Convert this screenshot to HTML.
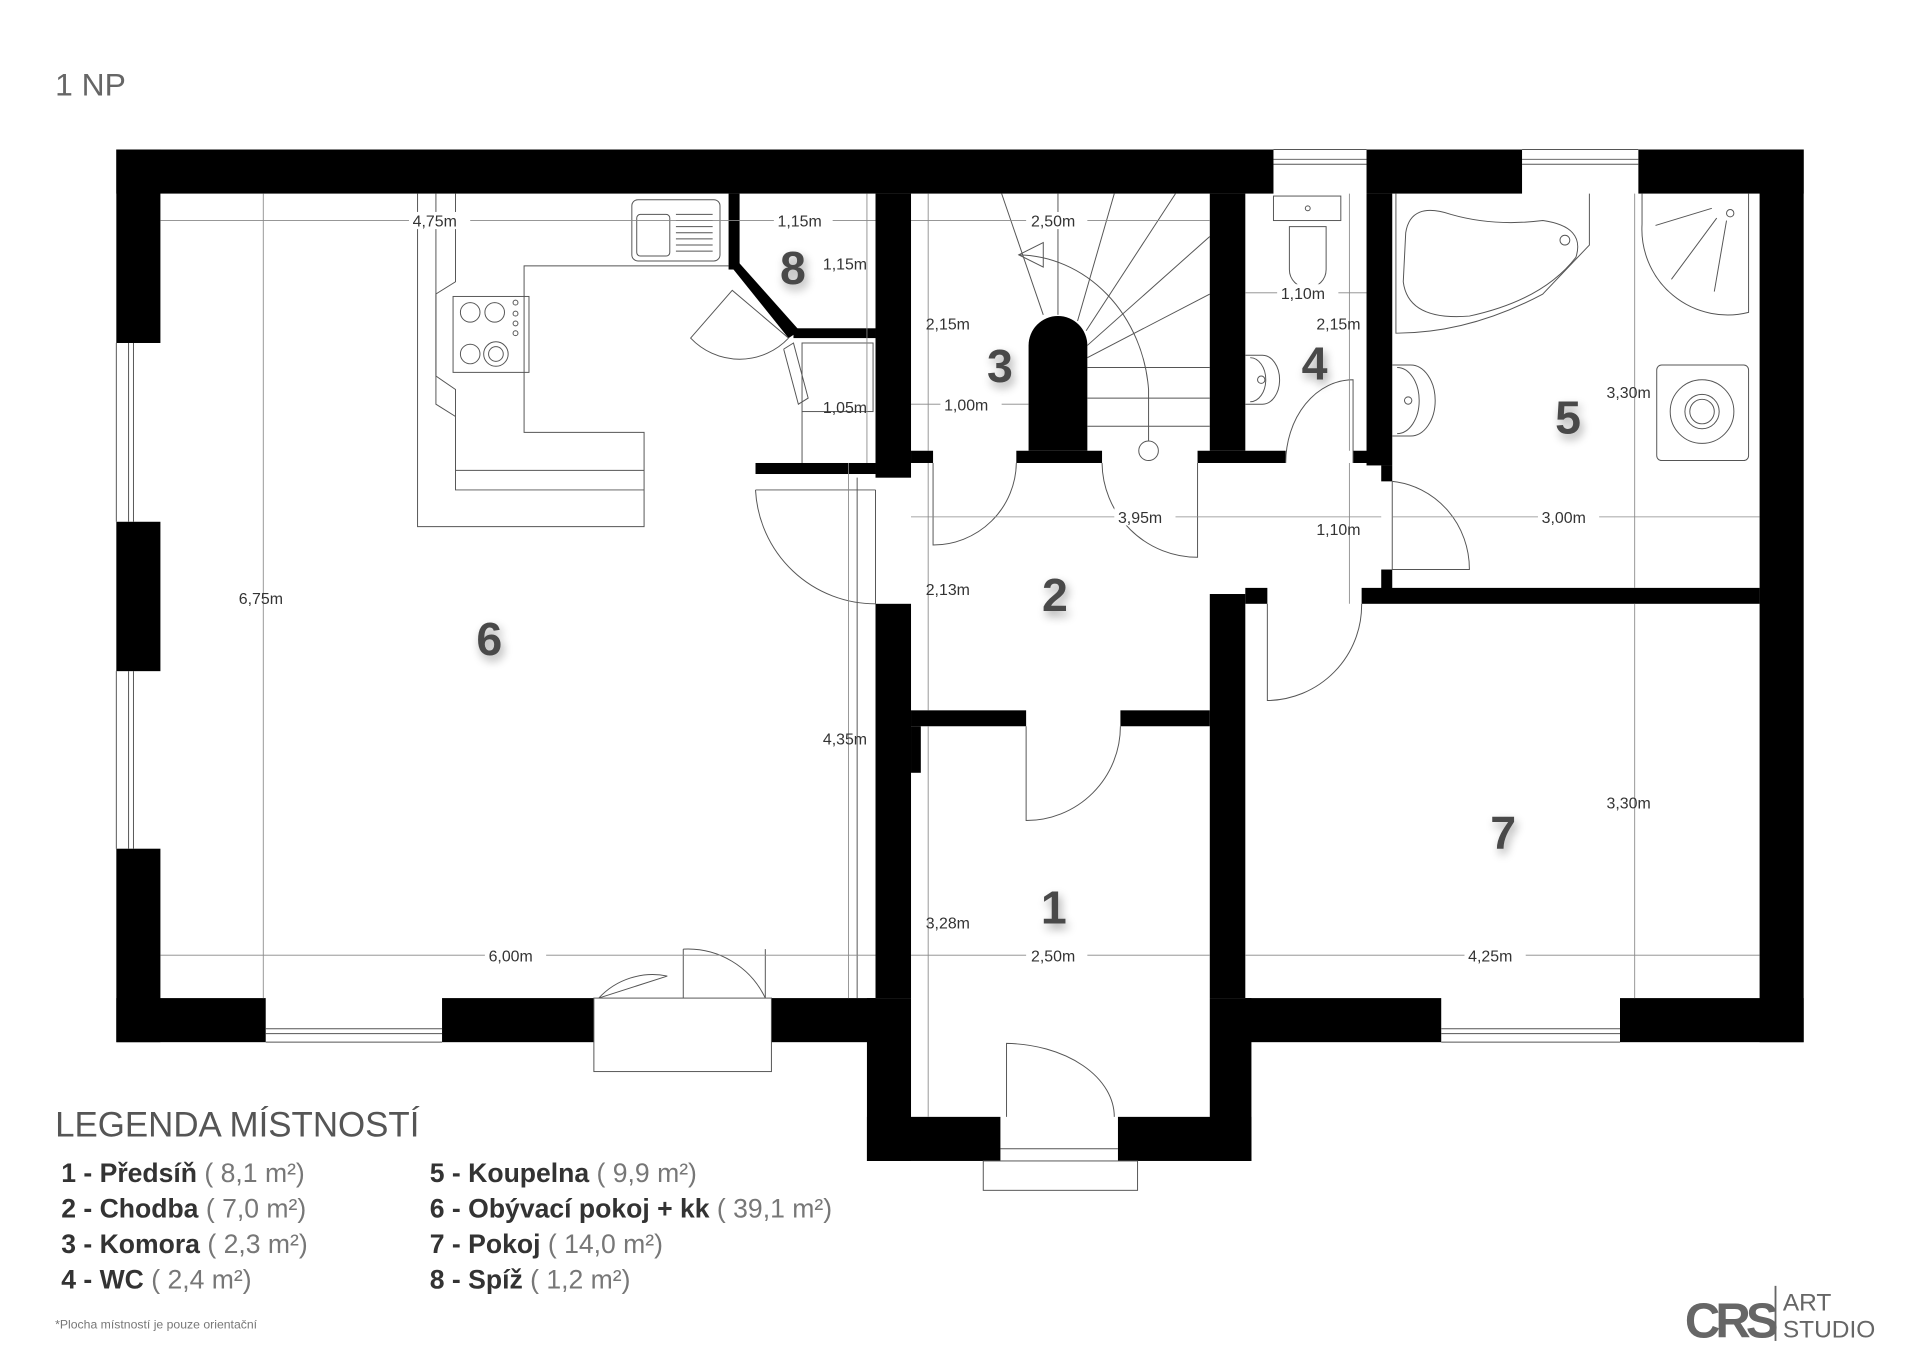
<!DOCTYPE html>
<html><head><meta charset="utf-8"><style>
html,body{margin:0;padding:0;background:#fff;}
svg{display:block;}
text{font-family:"Liberation Sans",sans-serif;}
.d{font-size:13px;fill:#333;}
.n{font-size:38px;font-weight:bold;fill:#4a4a4a;}
.l{stroke:#555;stroke-width:0.8;fill:none;}
.dm{stroke:#888;stroke-width:0.7;fill:none;}
.lg{font-size:21.7px;fill:#333;}
.lg tspan.b{font-weight:bold;}
.lg tspan.g{fill:#777;}
</style></head><body>
<svg width="1920" height="1357" viewBox="0 0 1568 1108" xmlns="http://www.w3.org/2000/svg">
<defs><filter id="sh" x="-50%" y="-50%" width="200%" height="200%"><feGaussianBlur in="SourceAlpha" stdDeviation="4"/><feOffset dx="2" dy="4"/><feComponentTransfer><feFuncA type="linear" slope="0.35"/></feComponentTransfer><feMerge><feMergeNode/><feMergeNode in="SourceGraphic"/></feMerge></filter></defs>
<rect width="1568" height="1108" fill="#fff"/>
<text x="45" y="78" font-size="26" fill="#666">1 NP</text>

<g fill="#000">
<rect x="95" y="122" width="945" height="36"/>
<rect x="1116" y="122" width="127" height="36"/>
<rect x="1338" y="122" width="135" height="36"/>
<rect x="95" y="122" width="36" height="158"/>
<rect x="95" y="426" width="36" height="122"/>
<rect x="95" y="693" width="36" height="158"/>
<rect x="95" y="815" width="122" height="36"/>
<rect x="361" y="815" width="124" height="36"/>
<rect x="630" y="815" width="85" height="36"/>
<rect x="708" y="815" width="36" height="133"/>
<rect x="708" y="912" width="109" height="36"/>
<rect x="913" y="912" width="109" height="36"/>
<rect x="988" y="815" width="34" height="133"/>
<rect x="1017" y="815" width="160" height="36"/>
<rect x="1323" y="815" width="150" height="36"/>
<rect x="1437" y="122" width="36" height="729"/>
<rect x="715" y="158" width="29" height="232"/>
<rect x="715" y="493" width="29" height="322"/>
<rect x="744" y="593" width="8" height="38"/>
<rect x="595" y="158" width="9" height="62"/>
<polygon points="595,215 604,215 653,270 644,276"/>
<rect x="648" y="268" width="67" height="8"/>
<rect x="617" y="378" width="98" height="9"/>
<rect x="988" y="158" width="29" height="210"/>
<rect x="1116" y="158" width="21" height="222"/>
<rect x="1128" y="380" width="9" height="13"/>
<rect x="1128" y="465" width="9" height="20"/>
<rect x="744" y="368" width="18" height="10"/>
<rect x="830" y="368" width="70" height="10"/>
<rect x="978" y="368" width="72" height="10"/>
<rect x="1105" y="368" width="23" height="10"/>
<rect x="744" y="580" width="94" height="13"/>
<rect x="915" y="580" width="73" height="13"/>
<rect x="988" y="485" width="29" height="330"/>
<rect x="1017" y="480" width="18" height="13"/>
<rect x="1112" y="480" width="325" height="13"/>
<path d="M840,368 L840,282 A24,24 0 0 1 888,282 L888,368 Z"/>
</g>

<g class="l">
<line x1="1040" y1="130" x2="1116" y2="130"/><line x1="1040" y1="134" x2="1116" y2="134"/><line x1="1040" y1="122" x2="1116" y2="122"/>
<line x1="1243" y1="130" x2="1338" y2="130"/><line x1="1243" y1="134" x2="1338" y2="134"/><line x1="1243" y1="122" x2="1338" y2="122"/>
<line x1="105" y1="280" x2="105" y2="426"/><line x1="109" y1="280" x2="109" y2="426"/><line x1="95" y1="280" x2="95" y2="426"/>
<line x1="105" y1="548" x2="105" y2="693"/><line x1="109" y1="548" x2="109" y2="693"/><line x1="95" y1="548" x2="95" y2="693"/>
<line x1="217" y1="840" x2="361" y2="840"/><line x1="217" y1="844" x2="361" y2="844"/><line x1="217" y1="851" x2="361" y2="851"/>
<line x1="1177" y1="840" x2="1323" y2="840"/><line x1="1177" y1="844" x2="1323" y2="844"/><line x1="1177" y1="851" x2="1323" y2="851"/>
<rect x="485" y="815" width="145" height="60"/>
<rect x="803" y="948" width="126" height="24"/>
<line x1="817" y1="938" x2="913" y2="938"/>
</g>

<g class="l">
<path d="M489,815 L545,797 M545,797 A60,60 0 0 0 489,815"/>
<path d="M558,815 L558,775 M625,815 L625,775 M558,775 A70,70 0 0 1 625,815" />
<path d="M617,400 A98,98 0 0 0 715,493 M715,400 L617,400 M715,400 L715,493"/>
<path d="M762,378 L762,445 A68,68 0 0 0 830,378"/>
<path d="M978,378 L978,455 A78,78 0 0 1 900,378"/>
<path d="M1105,378 L1105,310 A55,68 0 0 0 1050,378"/>
<path d="M1137,393 L1137,465 L1200,465 A70,72 0 0 0 1137,393"/>
<path d="M1035,493 L1035,572 A78,78 0 0 0 1112,493"/>
<path d="M838,593 L838,670 A77,77 0 0 0 915,593"/>
<path d="M822,912 L822,852 A90,60 0 0 1 910,912"/>
<path d="M644,276 L598,237 L564,276 A55,55 0 0 0 644,276"/>
</g>

<g class="l">
<line x1="818" y1="158" x2="852" y2="257"/>
<line x1="864" y1="158" x2="864" y2="257"/>
<line x1="910" y1="158" x2="880" y2="262"/>
<line x1="960" y1="158" x2="887" y2="270"/>
<line x1="988" y1="193" x2="888" y2="282"/>
<line x1="988" y1="240" x2="888" y2="292"/>
<line x1="888" y1="300" x2="988" y2="300"/>
<line x1="888" y1="325" x2="988" y2="325"/>
<line x1="888" y1="348" x2="988" y2="348"/>
<path d="M832,208 A108,120 0 0 1 938,318 L938,360"/>
<polygon points="832,208 852,198 852,218"/>
<circle cx="938" cy="368" r="8"/>
</g>

<g class="l">
<polyline points="341,158 341,430 526,430 526,353 428,353 428,217 595,217"/>
<polyline points="356,158 356,307 372,318 372,400 526,400"/>
<polyline points="372,158 372,230 356,240 356,330 372,340 372,384 526,384"/>
<rect x="516" y="163" width="72" height="50" rx="5"/>
<rect x="520" y="175" width="27" height="34" rx="3"/>
<path d="M552,175 h30 M552,180 h30 M552,185 h30 M552,190 h30 M552,195 h30 M552,200 h30 M552,205 h30"/>
<rect x="370" y="242" width="62" height="62"/>
<circle cx="384" cy="255" r="8"/><circle cx="404" cy="255" r="8"/>
<circle cx="384" cy="289" r="8"/><circle cx="405" cy="289" r="10"/><circle cx="405" cy="289" r="6"/>
<circle cx="421" cy="247" r="2"/><circle cx="421" cy="256" r="2"/><circle cx="421" cy="264" r="2"/><circle cx="421" cy="272" r="2"/>
<polyline points="640,285 648,280 660,325 652,330 640,285"/>
<rect x="655" y="280" width="58" height="56"/>
<line x1="655" y1="336" x2="655" y2="378"/>
<line x1="700" y1="390" x2="700" y2="815"/>
</g>

<g class="l">
<rect x="1040" y="160" width="55" height="20"/>
<circle cx="1068" cy="170" r="2"/>
<path d="M1053,185 h30 v35 a15,15 0 0 1 -30,0 z"/>
<path d="M1017,290 h14 a14,20 0 0 1 0,40 h-14 M1021,292 a12,17 0 0 1 0,36"/>
<circle cx="1030" cy="310" r="3"/>
<path d="M1137,298 h15 a18,26 0 0 1 0,58 h-15 M1141,300 a16,24 0 0 1 0,54"/>
<circle cx="1150" cy="327" r="3"/>
<path d="M1140,158 L1140,272 Q1200,272 1260,240 L1298,200 L1298,158"/>
<path d="M1148,190 Q1152,164 1185,175 Q1220,185 1260,180 Q1295,185 1287,210 Q1260,245 1200,258 Q1150,262 1146,230 Z"/>
<circle cx="1278" cy="196" r="4"/>
<path d="M1341,158 L1341,183 A70,70 0 0 0 1428,255 L1428,158"/>
<line x1="1352" y1="184" x2="1398" y2="170"/><line x1="1365" y1="228" x2="1402" y2="178"/><line x1="1410" y1="180" x2="1400" y2="238"/>
<circle cx="1413" cy="174" r="3"/>
<rect x="1353" y="298" width="75" height="78" rx="4"/>
<circle cx="1390" cy="336" r="26"/><circle cx="1390" cy="336" r="14"/><circle cx="1390" cy="336" r="10"/>
</g>

<g class="dm">
<line x1="131" y1="180" x2="715" y2="180"/>
<line x1="744" y1="180" x2="988" y2="180"/>
<line x1="1017" y1="239" x2="1116" y2="239"/>
<line x1="744" y1="330" x2="840" y2="330"/>
<line x1="744" y1="422" x2="1128" y2="422"/>
<line x1="1137" y1="422" x2="1437" y2="422"/>
<line x1="131" y1="780" x2="715" y2="780"/>
<line x1="744" y1="780" x2="988" y2="780"/>
<line x1="1017" y1="780" x2="1437" y2="780"/>
<line x1="215" y1="158" x2="215" y2="815"/>
<line x1="693" y1="378" x2="693" y2="815"/>
<line x1="708" y1="158" x2="708" y2="378"/>
<line x1="758" y1="158" x2="758" y2="368"/>
<line x1="758" y1="378" x2="758" y2="580"/>
<line x1="758" y1="593" x2="758" y2="912"/>
<line x1="1102" y1="158" x2="1102" y2="368"/>
<line x1="1102" y1="378" x2="1102" y2="493"/>
<line x1="1335" y1="158" x2="1335" y2="480"/>
<line x1="1335" y1="493" x2="1335" y2="815"/>
</g>

<g class="d">
<rect x="334" y="173" width="50" height="14" fill="#fff"/><text x="337" y="185">4,75m</text>
<rect x="632" y="173" width="48" height="14" fill="#fff"/><text x="635" y="185">1,15m</text>
<text x="672" y="220">1,15m</text>
<text x="672" y="337">1,05m</text>
<rect x="838" y="173" width="50" height="14" fill="#fff"/><text x="842" y="185">2,50m</text>
<text x="756" y="269">2,15m</text>
<rect x="768" y="323" width="50" height="14" fill="#fff"/><text x="771" y="335">1,00m</text>
<rect x="1043" y="232" width="50" height="14" fill="#fff"/><text x="1046" y="244">1,10m</text>
<text x="1075" y="269">2,15m</text>
<text x="1312" y="325">3,30m</text>
<rect x="910" y="415" width="50" height="14" fill="#fff"/><text x="913" y="427">3,95m</text>
<text x="1075" y="437">1,10m</text>
<rect x="1256" y="415" width="50" height="14" fill="#fff"/><text x="1259" y="427">3,00m</text>
<text x="756" y="486">2,13m</text>
<text x="195" y="493">6,75m</text>
<text x="672" y="608">4,35m</text>
<text x="1312" y="660">3,30m</text>
<text x="756" y="758">3,28m</text>
<rect x="396" y="773" width="50" height="14" fill="#fff"/><text x="399" y="785">6,00m</text>
<rect x="838" y="773" width="50" height="14" fill="#fff"/><text x="842" y="785">2,50m</text>
<rect x="1196" y="773" width="50" height="14" fill="#fff"/><text x="1199" y="785">4,25m</text>
</g>

<g class="n" filter="url(#sh)">
<text x="637" y="232">8</text>
<text x="806" y="312">3</text>
<text x="1063" y="310">4</text>
<text x="1270" y="354">5</text>
<text x="851" y="499">2</text>
<text x="389" y="535">6</text>
<text x="1217" y="693">7</text>
<text x="850" y="754">1</text>
</g>

<text x="45" y="928" font-size="28.5" fill="#555" style="font-weight:300">LEGENDA MÍSTNOSTÍ</text>
<g class="lg">
<text x="50" y="965"><tspan class="b">1 - Předsíň</tspan><tspan class="g"> ( 8,1 m²)</tspan></text>
<text x="50" y="994"><tspan class="b">2 - Chodba</tspan><tspan class="g"> ( 7,0 m²)</tspan></text>
<text x="50" y="1023"><tspan class="b">3 - Komora</tspan><tspan class="g"> ( 2,3 m²)</tspan></text>
<text x="50" y="1052"><tspan class="b">4 - WC</tspan><tspan class="g"> ( 2,4 m²)</tspan></text>
<text x="351" y="965"><tspan class="b">5 - Koupelna</tspan><tspan class="g"> ( 9,9 m²)</tspan></text>
<text x="351" y="994"><tspan class="b">6 - Obývací pokoj + kk</tspan><tspan class="g"> ( 39,1 m²)</tspan></text>
<text x="351" y="1023"><tspan class="b">7 - Pokoj</tspan><tspan class="g"> ( 14,0 m²)</tspan></text>
<text x="351" y="1052"><tspan class="b">8 - Spíž</tspan><tspan class="g"> ( 1,2 m²)</tspan></text>
</g>
<text x="45" y="1085" font-size="10" fill="#777">*Plocha místností je pouze orientační</text>

<text x="1376" y="1092" font-size="40" font-weight="bold" fill="#666" style="letter-spacing:-4px">CRS</text>
<line x1="1450" y1="1050" x2="1450" y2="1095" stroke="#666" stroke-width="1.5"/>
<text x="1456" y="1070" font-size="20" fill="#666">ART</text>
<text x="1456" y="1092" font-size="20" fill="#666">STUDIO</text>
</svg>
</body></html>
